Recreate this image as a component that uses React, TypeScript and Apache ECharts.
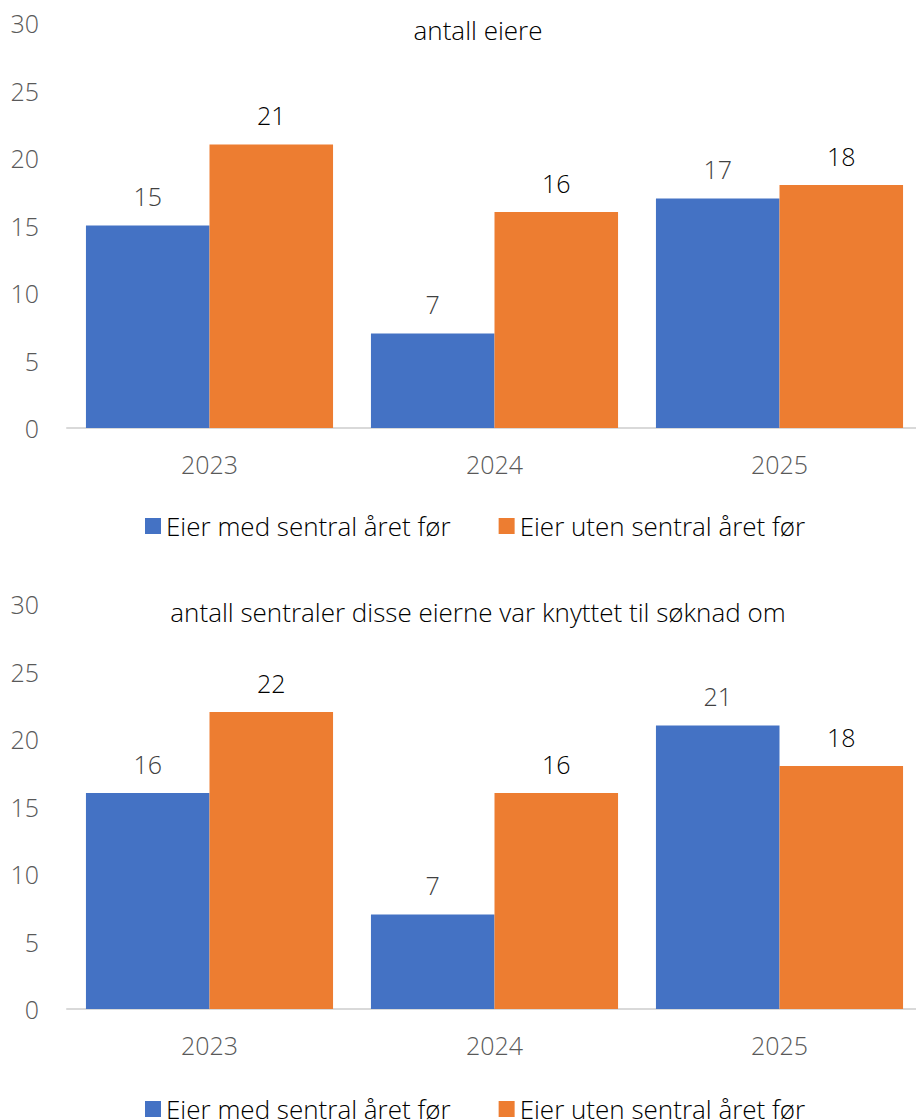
import React, { useEffect, useRef } from "react";
import * as echarts from "echarts";

const years = ["2023", "2024", "2025"];
const seriesNames = ["Eier med sentral året før", "Eier uten sentral året før"];
const eiereMed = [15, 7, 17];
const eiereUten = [21, 16, 18];
const sentralerMed = [16, 7, 21];
const sentralerUten = [22, 16, 18];
const titles = ["antall eiere", "antall sentraler disse eierne var knyttet til søknad om"];

const BLUE = "#4472C4";
const ORANGE = "#ED7D31";
const FONT = "'Open Sans', 'Noto Sans', sans-serif";

export default function App() {
  const ref = useRef<HTMLDivElement>(null);
  useEffect(() => {
    document.body.style.margin = "0";
    document.body.style.overflow = "hidden";
    const chart = echarts.init(ref.current!, null, { renderer: "svg" });
    const gridTops = [23, 604];
    const gridH = 405;
    const grids = gridTops.map((t) => ({ left: 67, top: t, width: 855, height: gridH }));
    const xAxes = grids.map((_, i) => ({
      type: "category",
      gridIndex: i,
      data: years,
      axisLine: { lineStyle: { color: "#D9D9D9", width: 2 } },
      axisTick: { show: false },
      axisLabel: { color: "#595959", fontSize: 25, fontFamily: FONT, fontWeight: 300, margin: 23 },
    }));
    const yAxes = grids.map((_, i) => ({
      type: "value",
      gridIndex: i,
      min: 0,
      max: 30,
      interval: 5,
      splitLine: { show: false },
      axisLine: { show: false },
      axisTick: { show: false },
      axisLabel: { color: "#595959", fontSize: 25, fontFamily: FONT, fontWeight: 300, margin: 28 },
    }));
    const mkLabel = (color: string) => ({
      show: true,
      position: "top",
      distance: 17,
      color,
      fontSize: 25,
      fontFamily: FONT,
      fontWeight: 300,
    });
    const dataSets = [
      [eiereMed, eiereUten],
      [sentralerMed, sentralerUten],
    ];
    const series: any[] = [];
    dataSets.forEach((pair, gi) => {
      pair.forEach((vals, si) => {
        series.push({
          type: "bar",
          name: seriesNames[si],
          xAxisIndex: gi,
          yAxisIndex: gi,
          data: vals,
          barGap: "0%",
          barCategoryGap: "13.3%",
          itemStyle: { color: si === 0 ? BLUE : ORANGE },
          label: mkLabel(si === 0 ? "#404040" : "#000000"),
        });
      });
    });
    const option: any = {
      animation: false,
      backgroundColor: "#ffffff",
      title: titles.map((t, i) => ({
        text: t,
        left: 473,
        textAlign: "center",
        top: i === 0 ? 12 : 594,
        textStyle: { color: "#000000", fontSize: 26, fontWeight: 300, fontFamily: FONT },
      })),
      legend: [508, 1091].map((t) => ({
        top: t,
        left: 140,
        data: seriesNames,
        icon: "rect",
        itemWidth: 16,
        itemHeight: 16,
        itemGap: 48,
        textStyle: { color: "#000000", fontSize: 26, fontWeight: 300, fontFamily: FONT },
      })),
      grid: grids,
      xAxis: xAxes,
      yAxis: yAxes,
      series,
    };
    chart.setOption(option);
    return () => chart.dispose();
  }, []);
  return (
    <div style={{ width: 916, height: 1120, overflow: "hidden" }}>
      <div ref={ref} style={{ width: 940, height: 1120 }} />
    </div>
  );
}
